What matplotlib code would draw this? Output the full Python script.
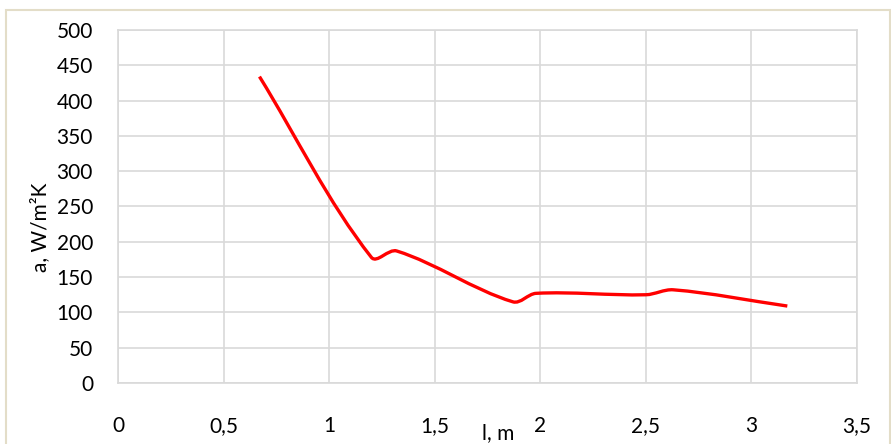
import matplotlib
matplotlib.use('Agg')
import matplotlib.pyplot as plt
from matplotlib.path import Path
from matplotlib.patches import PathPatch, Rectangle
import numpy as np

# values
length_m = [0.67, 1.2, 1.32, 1.87, 1.98, 2.5, 2.63, 3.17]
alpha_w = [434, 178, 187, 115, 127, 125, 132, 109]

x_ticks = [0, 0.5, 1, 1.5, 2, 2.5, 3, 3.5]
x_labels = ['0', '0,5', '1', '1,5', '2', '2,5', '3', '3,5']
y_ticks = list(range(0, 501, 50))

plt.rcParams['font.family'] = ['Lato', 'DejaVu Sans']


def smooth_path(xs, ys, sx, sy):
    """ smoothed line: cubic bezier through every point, tangent from the neighbours,
    handle length from the segment itself so short segments don't loop """
    pts = np.column_stack([np.asarray(xs) * sx, np.asarray(ys) * sy]).astype(float)
    n = len(pts)
    tang = []
    for i in range(n):
        a = pts[max(i - 1, 0)]
        b = pts[min(i + 1, n - 1)]
        d = b - a
        tang.append(d / np.hypot(*d))
    verts = [pts[0]]
    codes = [Path.MOVETO]
    for i in range(n - 1):
        seg = np.hypot(*(pts[i + 1] - pts[i])) / 3
        c1 = pts[i] + tang[i] * seg
        c2 = pts[i + 1] - tang[i + 1] * seg
        verts += [c1, c2, pts[i + 1]]
        codes += [Path.CURVE4] * 3
    verts = np.array(verts) / [sx, sy]
    return Path(verts, codes)


W, H = 891, 444
fig = plt.figure(figsize=(W / 100, H / 100), dpi=100)
fig.patches.append(Rectangle((6 / W, -0.1), 884 / W, 1.1 - 10 / H, transform=fig.transFigure,
                             fill=False, edgecolor='#E3DDC8', linewidth=1.5))

ax = fig.add_axes([118 / W, (H - 383) / H, (857 - 118) / W, (383 - 30) / H])
ax.set_xlim(0, 3.5)
ax.set_ylim(0, 500)
ax.set_xticks(x_ticks)
ax.set_xticklabels(x_labels)
ax.set_yticks(y_ticks)
ax.tick_params(length=0, labelsize=15, colors='black')
ax.tick_params(axis='x', pad=24)
ax.tick_params(axis='y', pad=18)
ax.grid(True, color='#D9D9D9', linewidth=1.2)
ax.set_axisbelow(True)
for s in ax.spines.values():
    s.set_color('#D9D9D9')
    s.set_linewidth(1.2)

# pixels per data unit, so the smoothing is done in screen proportions
sx = (857 - 118) / 3.5
sy = (383 - 30) / 500
ax.add_patch(PathPatch(smooth_path(length_m, alpha_w, sx, sy), fill=False, edgecolor='#FF0000',
                       linewidth=2.4, capstyle='butt', joinstyle='round'))

fig.text(40 / W, 1 - 227 / H, 'a, W/m\u00b2K', rotation=90, ha='center', va='center', fontsize=15)
fig.text(498 / W, 1 - 433 / H, 'l, m', ha='center', va='center', fontsize=15)

fig.savefig('out.png', dpi=100)
